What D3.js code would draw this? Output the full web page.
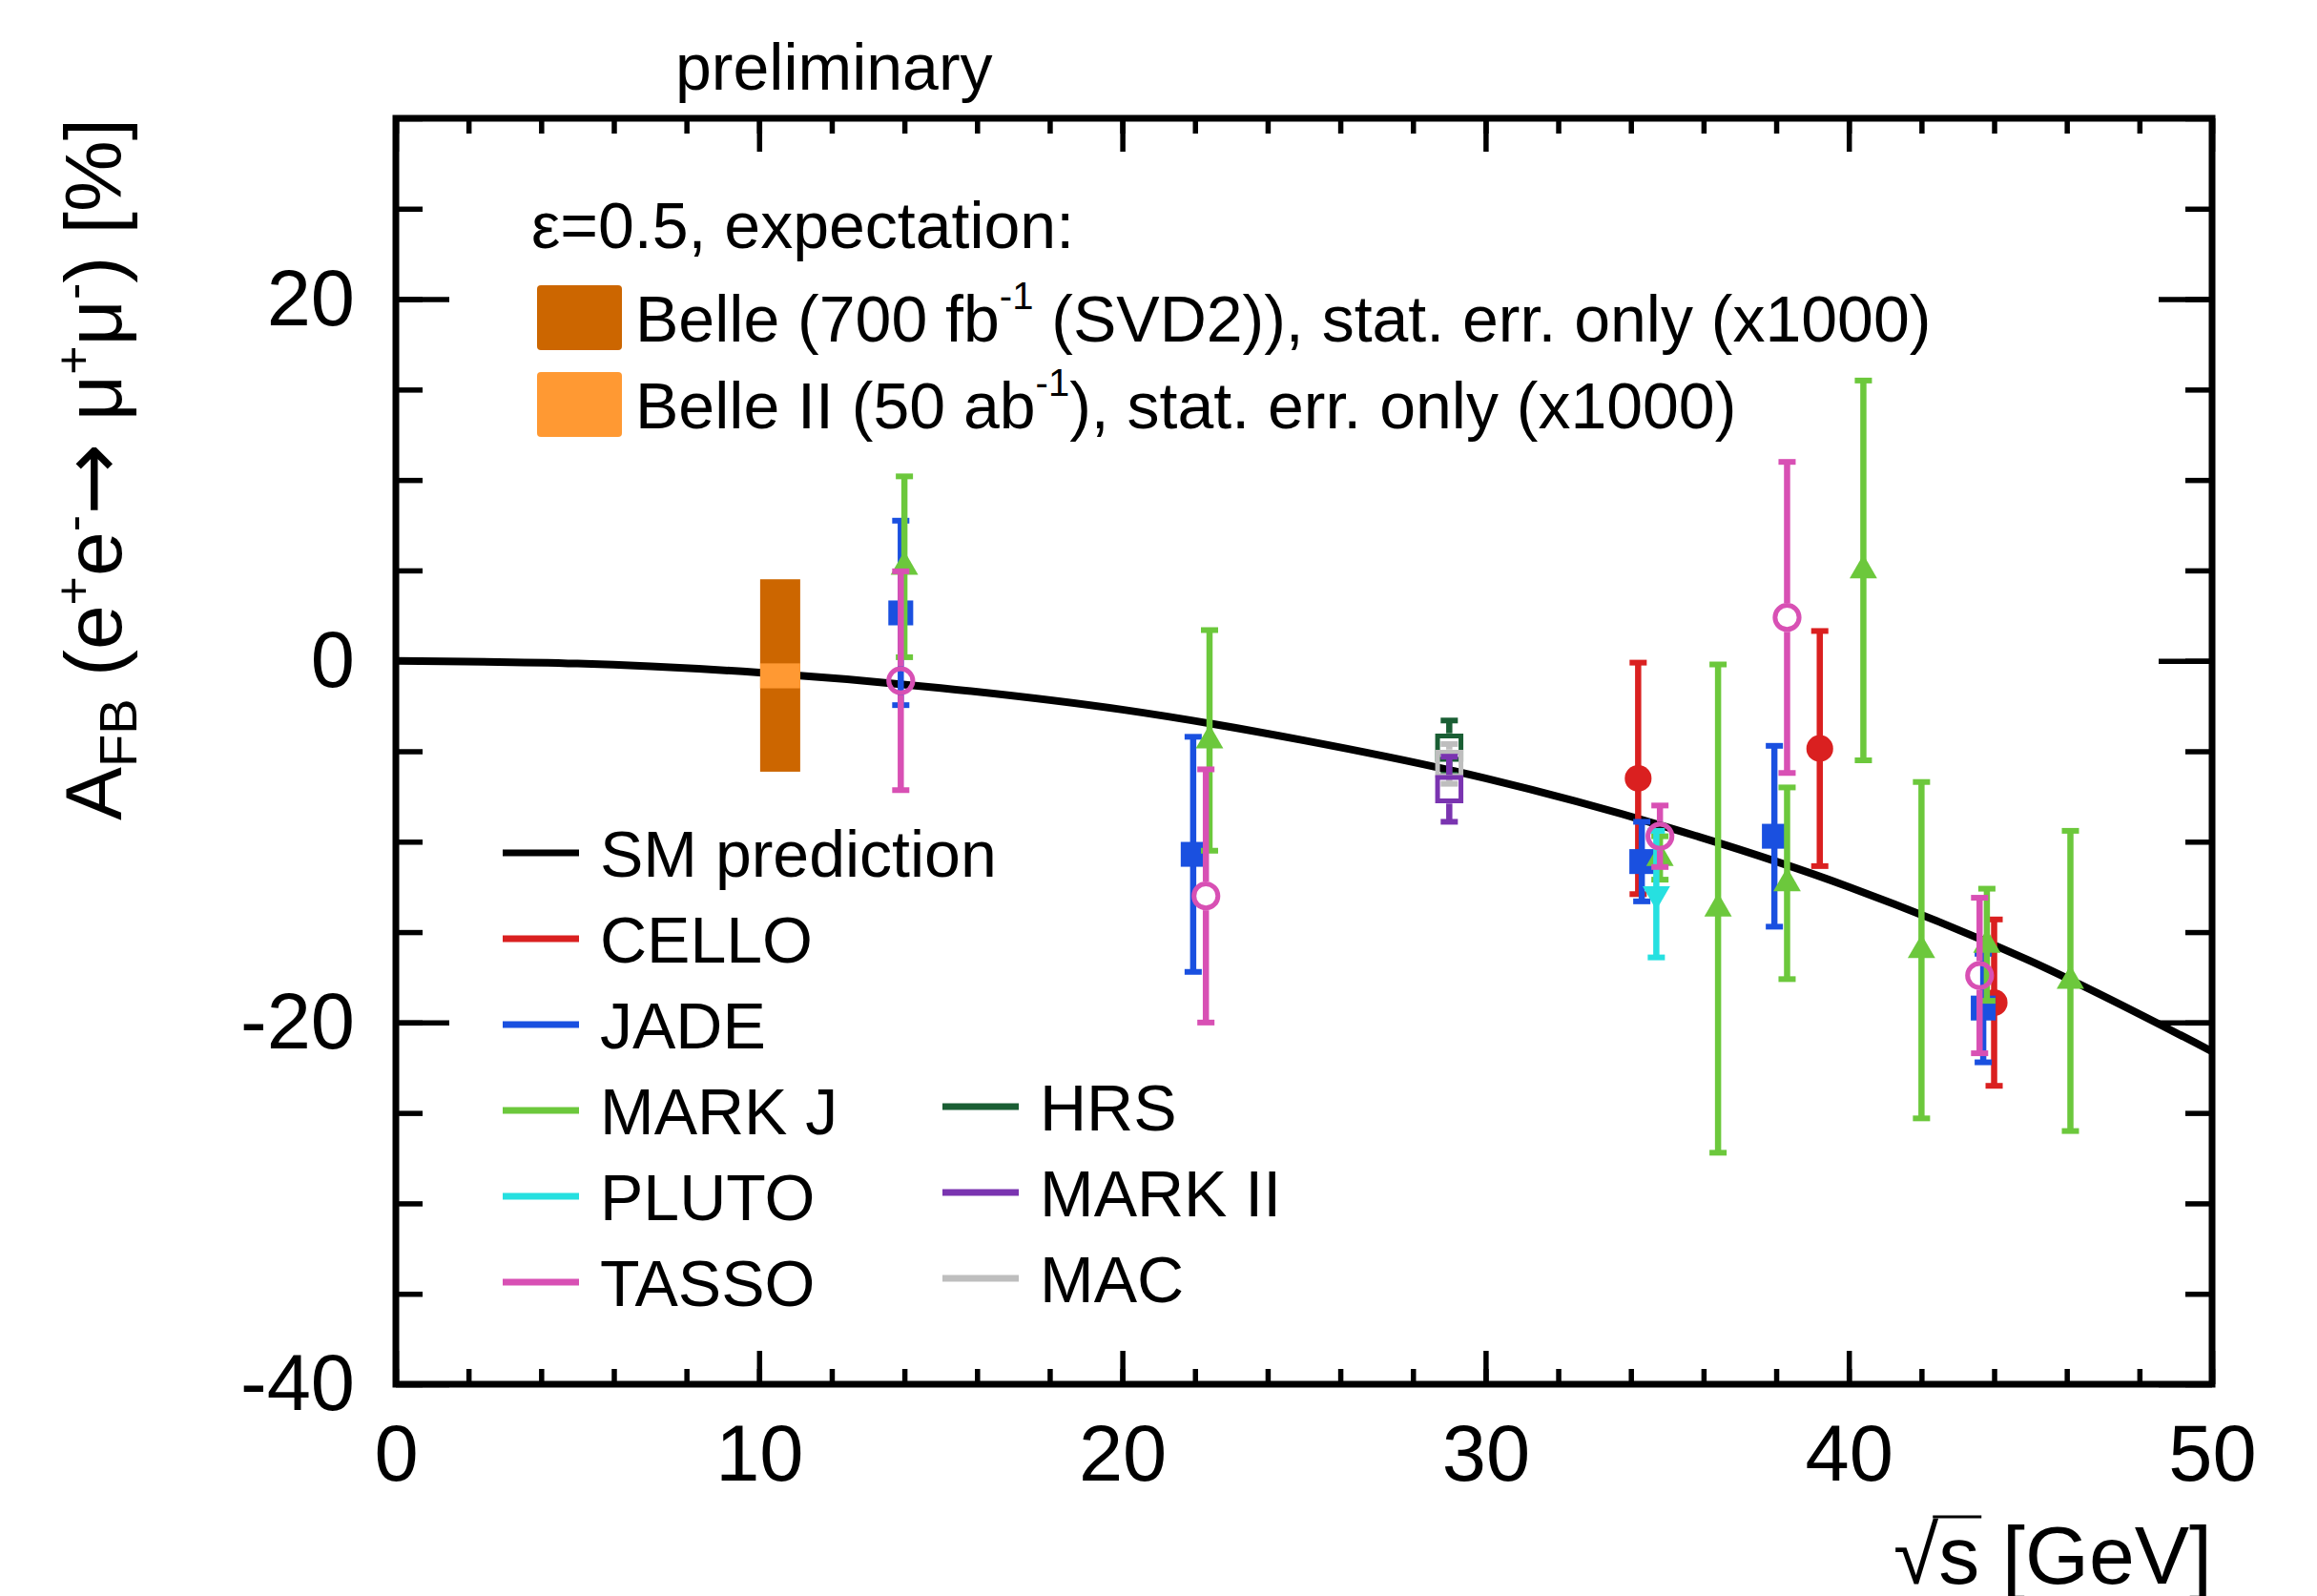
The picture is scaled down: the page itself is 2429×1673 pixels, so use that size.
<!DOCTYPE html>
<html>
<head>
<meta charset="utf-8">
<script src="https://cdn.jsdelivr.net/npm/d3@7"></script>
<style>
body { margin: 0; background: #fff; }
text { font-family: "Liberation Sans", Arial, Helvetica, sans-serif; fill: #000; }
</style>
</head>
<body>
<div id="chart"></div>
<script>
// values (x = sqrt(s) in GeV, y = A_FB in %)
var smX = [0, 5, 10, 15, 20, 25, 30, 35, 40, 45, 50];
var smY = [0, -0.15, -0.65, -1.5, -2.7, -4.4, -6.5, -9.2, -12.5, -16.6, -21.6];

var celloX = [34.2, 39.2, 44.0];
var celloY = [-6.5, -4.85, -18.9];
var celloErr = [6.4, 6.5, 4.6];

var jadeX = [13.9, 21.95, 34.3, 37.95, 43.7];
var jadeY = [2.65, -10.7, -11.1, -9.7, -19.2];
var jadeErr = [5.1, 6.5, 2.2, 5.0, 3.0];

var markjX = [14.0, 22.4, 34.8, 36.4, 38.3, 40.4, 42.0, 43.8, 46.1];
var markjY = [5.2, -4.4, -10.9, -13.7, -12.3, 5.0, -16.0, -15.7, -17.7];
var markjErr = [5.0, 6.1, 1.2, 13.5, 5.3, 10.5, 9.3, 3.1, 8.3];

var plutoX = [34.7];
var plutoY = [-12.9];
var plutoErr = [3.5];

var tassoX = [13.9, 22.3, 34.8, 38.3, 43.6];
var tassoY = [-1.1, -13.0, -9.7, 2.4, -17.4];
var tassoErr = [6.05, 7.0, 1.7, 8.6, 4.3];

var hrsX = [29.0];
var hrsY = [-4.8];
var hrsErr = [1.5];

var macX = [29.0];
var macY = [-5.7];
var macErr = [1.1];

var mark2X = [29.0];
var mark2Y = [-7.1];
var mark2Err = [1.8];

// Belle / Belle II expectations (x1000)
var belleX = 10.58;
var belleY = [-0.81, -0.83];
var belleErr = [5.32, 0.69];
var belleNames = ["Belle", "Belle II"];

var xTicksMajor = [0, 10, 20, 30, 40, 50];
var yTicksMajor = [-40, -20, 0, 20];

var w = 2429;
var h = 1673;
// plot frame in pixels (don't call these top/left: window.top is read-only!)
var pLeft = 415, pRight = 2319, pTop = 124, pBottom = 1451;

var svg = d3.select("#chart")
    .append("svg")
    .attr("width", w)
    .attr("height", h);

var xScale = d3.scaleLinear().domain([0, 50]).range([pLeft, pRight]);
var yScale = d3.scaleLinear().domain([-40, 30]).range([pBottom, pTop]);

// SM prediction curve (drawn first, data on top)
var smData = smX.map(function(x, i) { return [x, smY[i]]; });
var line = d3.line()
    .x(function(d) { return xScale(d[0]); })
    .y(function(d) { return yScale(d[1]); })
    .curve(d3.curveMonotoneX);

svg.append("path")
    .datum(smData)
    .attr("fill", "none")
    .attr("stroke", "#000")
    .attr("stroke-width", 8)
    .attr("d", line);

// Belle boxes
var boxW = 42;
svg.selectAll("rect.belle")
    .data(belleNames)
    .enter()
    .append("rect")
    .attr("class", "belle")
    .attr("x", xScale(belleX) - boxW / 2)
    .attr("width", boxW)
    .attr("y", function(d, i) { return yScale(belleY[i] + belleErr[i]); })
    .attr("height", function(d, i) { return yScale(belleY[i] - belleErr[i]) - yScale(belleY[i] + belleErr[i]); })
    .attr("fill", function(d, i) { return i == 0 ? "#cc6600" : "#ff9933"; });

// experiments
var series = [
    { name: "CELLO", x: celloX, y: celloY, err: celloErr, color: "#da2020", shape: "circle", open: false },
    { name: "JADE", x: jadeX, y: jadeY, err: jadeErr, color: "#1a50e0", shape: "square", open: false },
    { name: "MARK J", x: markjX, y: markjY, err: markjErr, color: "#6cc83c", shape: "up", open: false },
    { name: "PLUTO", x: plutoX, y: plutoY, err: plutoErr, color: "#26e0e0", shape: "down", open: false },
    { name: "TASSO", x: tassoX, y: tassoY, err: tassoErr, color: "#d850b4", shape: "circle", open: true },
    { name: "HRS", x: hrsX, y: hrsY, err: hrsErr, color: "#1a5e34", shape: "square", open: true },
    { name: "MAC", x: macX, y: macY, err: macErr, color: "#bebebe", shape: "square", open: true },
    { name: "MARK II", x: mark2X, y: mark2Y, err: mark2Err, color: "#7a34b0", shape: "square", open: true }
];

function symbolFor(s) {
    if (s.shape == "circle") return d3.symbol().type(d3.symbolCircle).size(s.open ? 500 : 620);
    if (s.shape == "square") return d3.symbol().type(d3.symbolSquare).size(s.open ? 600 : 680);
    return d3.symbol().type(d3.symbolTriangle).size(360);
}

series.forEach(function(s) {
    var g = svg.append("g");
    var pts = s.x.map(function(x, i) { return { x: x, y: s.y[i], e: s.err[i] }; });
    var gap = s.open ? 15 : 0;
    var cap = 18;
    var bw = 6.5;

    // upper and lower halves of the error bar (open markers leave a gap)
    g.selectAll("line.up")
        .data(pts)
        .enter()
        .append("line")
        .attr("x1", function(d) { return xScale(d.x); })
        .attr("x2", function(d) { return xScale(d.x); })
        .attr("y1", function(d) { return yScale(d.y) - gap; })
        .attr("y2", function(d) { return yScale(d.y + d.e); })
        .attr("stroke", s.color)
        .attr("stroke-width", bw);
    g.selectAll("line.down")
        .data(pts)
        .enter()
        .append("line")
        .attr("x1", function(d) { return xScale(d.x); })
        .attr("x2", function(d) { return xScale(d.x); })
        .attr("y1", function(d) { return yScale(d.y) + gap; })
        .attr("y2", function(d) { return yScale(d.y - d.e); })
        .attr("stroke", s.color)
        .attr("stroke-width", bw);

    // caps
    [1, -1].forEach(function(sign) {
        g.selectAll("line.cap" + sign)
            .data(pts)
            .enter()
            .append("line")
            .attr("x1", function(d) { return xScale(d.x) - cap / 2; })
            .attr("x2", function(d) { return xScale(d.x) + cap / 2; })
            .attr("y1", function(d) { return yScale(d.y + sign * d.e); })
            .attr("y2", function(d) { return yScale(d.y + sign * d.e); })
            .attr("stroke", s.color)
            .attr("stroke-width", 6);
    });

    g.selectAll("path")
        .data(pts)
        .enter()
        .append("path")
        .attr("d", symbolFor(s))
        .attr("transform", function(d) {
            var t = "translate(" + xScale(d.x) + "," + yScale(d.y) + ")";
            return s.shape == "down" ? t + " rotate(180)" : t;
        })
        .attr("fill", s.open ? "none" : s.color)
        .attr("stroke", s.open ? s.color : "none")
        .attr("stroke-width", s.open ? 5 : 0);
});

// axes with inward ticks on all four sides
function styleAxis(g, fs) {
    g.select(".domain").remove();
    g.selectAll("line").attr("stroke", "#000").attr("stroke-width", 5.5);
    g.selectAll("text")
        .attr("font-family", "'Liberation Sans', Arial, sans-serif")
        .attr("font-size", fs);
}

var xMinor = d3.range(0, 51, 2);
var yMinor = d3.range(-40, 31, 5);
var plain = function(d) { return String(d); }; // hyphen minus like the original

svg.append("g").attr("transform", "translate(0," + pBottom + ")")
    .call(d3.axisBottom(xScale).tickValues(xMinor).tickSize(-16).tickFormat(""))
    .call(styleAxis, 0);
svg.append("g").attr("transform", "translate(0," + pBottom + ")")
    .call(d3.axisBottom(xScale).tickValues(xTicksMajor).tickSize(-35).tickPadding(42).tickFormat(plain))
    .call(styleAxis, 83);
svg.append("g").attr("transform", "translate(0," + pTop + ")")
    .call(d3.axisTop(xScale).tickValues(xMinor).tickSize(-16).tickFormat(""))
    .call(styleAxis, 0);
svg.append("g").attr("transform", "translate(0," + pTop + ")")
    .call(d3.axisTop(xScale).tickValues(xTicksMajor).tickSize(-35).tickFormat(""))
    .call(styleAxis, 0);

svg.append("g").attr("transform", "translate(" + pLeft + ",0)")
    .call(d3.axisLeft(yScale).tickValues(yMinor).tickSize(-28).tickFormat(""))
    .call(styleAxis, 0);
svg.append("g").attr("transform", "translate(" + pLeft + ",0)")
    .call(d3.axisLeft(yScale).tickValues(yTicksMajor).tickSize(-56).tickPadding(43).tickFormat(plain))
    .call(styleAxis, 83);
svg.append("g").attr("transform", "translate(" + pRight + ",0)")
    .call(d3.axisRight(yScale).tickValues(yMinor).tickSize(-28).tickFormat(""))
    .call(styleAxis, 0);
svg.append("g").attr("transform", "translate(" + pRight + ",0)")
    .call(d3.axisRight(yScale).tickValues(yTicksMajor).tickSize(-56).tickFormat(""))
    .call(styleAxis, 0);

// frame
svg.append("rect")
    .attr("x", pLeft)
    .attr("y", pTop)
    .attr("width", pRight - pLeft)
    .attr("height", pBottom - pTop)
    .attr("fill", "none")
    .attr("stroke", "#000")
    .attr("stroke-width", 7);

// titles
svg.append("text")
    .attr("x", 708)
    .attr("y", 94)
    .attr("font-size", 68)
    .text("preliminary");

var xl = svg.append("text")
    .attr("x", pRight)
    .attr("y", 1660)
    .attr("text-anchor", "end")
    .attr("font-size", 86)
    .text("\u221As [GeV]");
// thin bar of the root sign over the s
var rootBox = xl.node().getExtentOfChar(0);
var sBox = xl.node().getExtentOfChar(1);
svg.append("line")
    .attr("x1", rootBox.x + rootBox.width - 6)
    .attr("x2", sBox.x + sBox.width + 2)
    .attr("y1", 1660 - 70)
    .attr("y2", 1660 - 70)
    .attr("stroke", "#000")
    .attr("stroke-width", 3);

var yl = svg.append("text")
    .attr("transform", "translate(127,492) rotate(-90)")
    .attr("text-anchor", "middle")
    .attr("font-size", 84);
yl.append("tspan").text("A");
yl.append("tspan").attr("font-size", 56).attr("dy", 16).text("FB");
yl.append("tspan").attr("dy", -16).text(" (e");
yl.append("tspan").attr("font-size", 52).attr("dy", -32).text("+");
yl.append("tspan").attr("dy", 32).text("e");
yl.append("tspan").attr("font-size", 52).attr("dy", -32).text("-");
yl.append("tspan").attr("dy", 32).attr("font-family", "'DejaVu Sans'").attr("font-size", 90).text("\u2192");
yl.append("tspan").text(" \u03BC");
yl.append("tspan").attr("font-size", 52).attr("dy", -32).text("+");
yl.append("tspan").attr("dy", 32).text("\u03BC");
yl.append("tspan").attr("font-size", 52).attr("dy", -32).text("-");
yl.append("tspan").attr("dy", 32).text(") [%]");

// expectation legend (top)
svg.append("text")
    .attr("x", 557)
    .attr("y", 260)
    .attr("font-size", 68)
    .text("\u03B5=0.5, expectation:");

var topLegend = [
    { pre: "Belle (700 fb", sup: "-1", post: " (SVD2)), stat. err. only (x1000)", color: "#cc6600" },
    { pre: "Belle II (50 ab", sup: "-1", post: "), stat. err. only (x1000)", color: "#ff9933" }
];
topLegend.forEach(function(d, i) {
    var y0 = 299 + i * 91;
    svg.append("rect")
        .attr("x", 563)
        .attr("y", y0)
        .attr("width", 89)
        .attr("height", 68)
        .attr("rx", 4)
        .attr("fill", d.color);
    var t = svg.append("text")
        .attr("x", 666)
        .attr("y", y0 + 59)
        .attr("font-size", 68);
    t.append("tspan").text(d.pre);
    t.append("tspan").attr("font-size", 40).attr("dy", -34).text(d.sup);
    t.append("tspan").attr("dy", 34).text(d.post);
});

// experiment legend (lower left)
var legend1 = [
    { name: "SM prediction", color: "#000" },
    { name: "CELLO", color: "#da2020" },
    { name: "JADE", color: "#1a50e0" },
    { name: "MARK J", color: "#6cc83c" },
    { name: "PLUTO", color: "#26e0e0" },
    { name: "TASSO", color: "#d850b4" }
];
var legend2 = [
    { name: "HRS", color: "#1a5e34" },
    { name: "MARK II", color: "#7a34b0" },
    { name: "MAC", color: "#bebebe" }
];

function drawLegend(items, x0, y0) {
    var g = svg.append("g");
    items.forEach(function(d, i) {
        var y = y0 + i * 90;
        g.append("line")
            .attr("x1", x0)
            .attr("x2", x0 + 80)
            .attr("y1", y)
            .attr("y2", y)
            .attr("stroke", d.color)
            .attr("stroke-width", 7);
        g.append("text")
            .attr("x", x0 + 102)
            .attr("y", y + 25)
            .attr("font-size", 68)
            .text(d.name);
    });
}
drawLegend(legend1, 527, 894);
drawLegend(legend2, 988, 1160);
</script>
</body>
</html>
